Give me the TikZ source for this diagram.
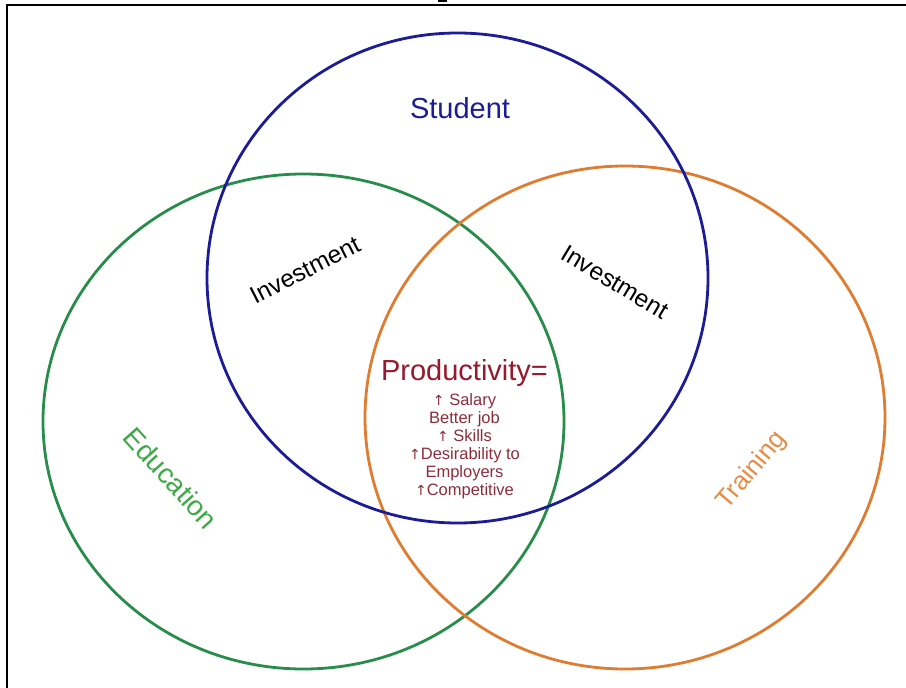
\documentclass[tikz,border=0pt]{standalone}
\usepackage{fontspec}
\setmainfont{Liberation Sans}
\newfontfamily\arrfont{DejaVu Sans}
\newcommand{\upar}{{\arrfont\fontsize{14}{18}\selectfont ↑}}
\definecolor{stublue}{RGB}{28,28,150}
\definecolor{edugreen}{RGB}{40,140,75}
\definecolor{trnorange}{RGB}{222,125,50}
\definecolor{edutext}{RGB}{60,170,70}
\definecolor{trntext}{RGB}{230,140,70}
\definecolor{prodred}{RGB}{150,25,45}
\definecolor{listred}{RGB}{140,45,60}
\begin{document}
\begin{tikzpicture}[x=1pt,y=-1pt,
  ring/.style={line width=2.8pt},
  lbl/.style={inner sep=1pt},
  bigtxt/.style={lbl,font=\fontsize{29}{34}\selectfont}]
\useasboundingbox (0,0) rectangle (906,688);
\fill[white] (0,0) rectangle (906,688);
\begin{scope}
\clip (0,0) rectangle (906,688);
\draw[line width=2pt] (7,695) -- (7,5) -- (912,5);
\fill (438,0) rectangle (447,2);
\end{scope}
% circles
\draw[ring, edugreen] (303.5,421.5) ellipse [x radius=260.5, y radius=247.5];
\draw[ring, trnorange] (625,417.5) ellipse [x radius=260, y radius=251.5];
\draw[ring, stublue] (457.5,278) ellipse [x radius=250.5, y radius=245];
% labels
\node[bigtxt, text=stublue] (student) at (460,108) {Student};
\node[lbl, rotate=27, font=\fontsize{24.5}{28}\selectfont] (invl) at (305,270) {Investment};
\node[lbl, rotate=-31, font=\fontsize{24.5}{28}\selectfont] (invr) at (615,282) {Investment};
\node[bigtxt, text=prodred] (prod) at (464.5,373) {Productivity=};
\node[lbl, anchor=north, align=center, text=listred, font=\fontsize{16.5}{18}\selectfont] (list) at (464.5,392.5)
  {\upar\ Salary\\Better job\\\upar\ Skills\\\upar Desirability to\\Employers\\\upar Competitive};
\node[lbl, rotate=-48, font=\fontsize{28}{32}\selectfont, text=edutext] (edu) at (171,478) {Education};
\node[lbl, rotate=50, font=\fontsize{26}{30}\selectfont, text=trntext] (trn) at (752,471) {Training};
\end{tikzpicture}
\end{document}
